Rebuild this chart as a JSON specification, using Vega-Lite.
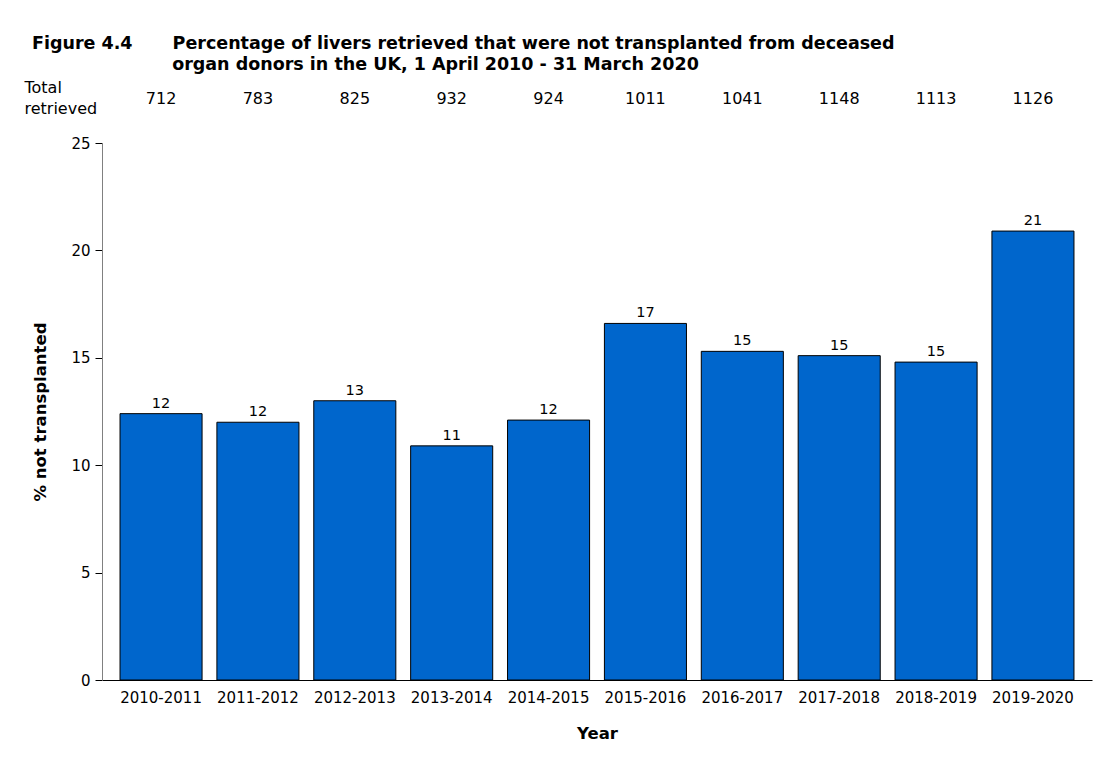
{
  "$schema": "https://vega.github.io/schema/vega-lite/v6.json",
  "width": 990,
  "height": 537,
  "autosize": {"type": "none"},
  "padding": {"left": 102, "top": 143, "right": 20, "bottom": 83},
  "background": "white",
  "title": {
    "text": [
      "Figure 4.4\u00a0\u00a0\u00a0\u00a0\u00a0\u00a0\u2009Percentage of livers retrieved that were not transplanted from deceased",
      "\u200b\u00a0\u00a0\u00a0\u00a0\u00a0\u00a0\u00a0\u00a0\u00a0\u00a0\u00a0\u00a0\u00a0\u00a0\u00a0\u00a0\u00a0\u00a0\u00a0\u00a0\u00a0\u00a0\u00a0organ donors in the UK, 1 April 2010 - 31 March 2020"
    ],
    "anchor": "start",
    "frame": "group",
    "dx": -70,
    "dy": -2,
    "font": "DejaVu Sans",
    "fontSize": 17.5,
    "fontWeight": "bold",
    "lineHeight": 21,
    "color": "#000000"
  },
  "config": {
    "font": "DejaVu Sans",
    "view": {"stroke": null},
    "text": {"color": "#000000"}
  },
  "data": {
    "values": [
      {"year": "2010-2011", "pct": 12.4, "total": 712},
      {"year": "2011-2012", "pct": 12.0, "total": 783},
      {"year": "2012-2013", "pct": 13.0, "total": 825},
      {"year": "2013-2014", "pct": 10.9, "total": 932},
      {"year": "2014-2015", "pct": 12.1, "total": 924},
      {"year": "2015-2016", "pct": 16.6, "total": 1011},
      {"year": "2016-2017", "pct": 15.3, "total": 1041},
      {"year": "2017-2018", "pct": 15.1, "total": 1148},
      {"year": "2018-2019", "pct": 14.8, "total": 1113},
      {"year": "2019-2020", "pct": 20.9, "total": 1126}
    ]
  },
  "resolve": {"axis": {"x": "independent"}},
  "layer": [
    {
      "mark": {"type": "bar", "color": "#0066CC", "stroke": "#000000", "strokeWidth": 1},
      "encoding": {
        "x": {
          "field": "year", "type": "nominal", "sort": null,
          "scale": {"paddingInner": 0.153, "paddingOuter": 0.186},
          "axis": {
            "orient": "bottom", "title": "Year", "labelAngle": 0,
            "ticks": false, "domainColor": "#000000", "domainWidth": 1.2,
            "labelFontSize": 15, "labelColor": "#000000", "labelPadding": 10,
            "titleFontSize": 16.5, "titleFontWeight": "bold", "titleColor": "#000000", "titlePadding": 20
          }
        },
        "y": {
          "field": "pct", "type": "quantitative",
          "scale": {"domain": [0, 25], "nice": false},
          "axis": {
            "title": "% not transplanted", "values": [0, 5, 10, 15, 20, 25],
            "grid": false, "domainColor": "#808080", "tickColor": "#000000", "tickSize": 7,
            "labelFontSize": 15, "labelColor": "#000000", "labelPadding": 5,
            "titleFontSize": 16.5, "titleFontWeight": "bold", "titleColor": "#000000", "titlePadding": 22
          }
        }
      }
    },
    {
      "mark": {"type": "text", "baseline": "alphabetic", "dy": -6, "fontSize": 14.5},
      "encoding": {
        "x": {"field": "year", "type": "nominal", "sort": null, "axis": null},
        "y": {"field": "pct", "type": "quantitative"},
        "text": {"field": "pct", "type": "quantitative", "format": ".0f"}
      }
    },
    {
      "mark": {"type": "text", "baseline": "middle", "fontSize": 16},
      "encoding": {
        "x": {
          "field": "year", "type": "nominal", "sort": null,
          "axis": {
            "orient": "top", "labels": false, "ticks": false, "domain": false,
            "title": ["Total", "retrieved"], "titleAngle": 0, "titleAlign": "left", "titleBaseline": "top",
            "titleX": -78, "titleY": -64, "titleFontSize": 16, "titleFontWeight": "normal", "titleColor": "#000000",
            "titleLineHeight": 21
          }
        },
        "y": {"datum": 27.05},
        "text": {"field": "total", "type": "quantitative"}
      }
    }
  ]
}
